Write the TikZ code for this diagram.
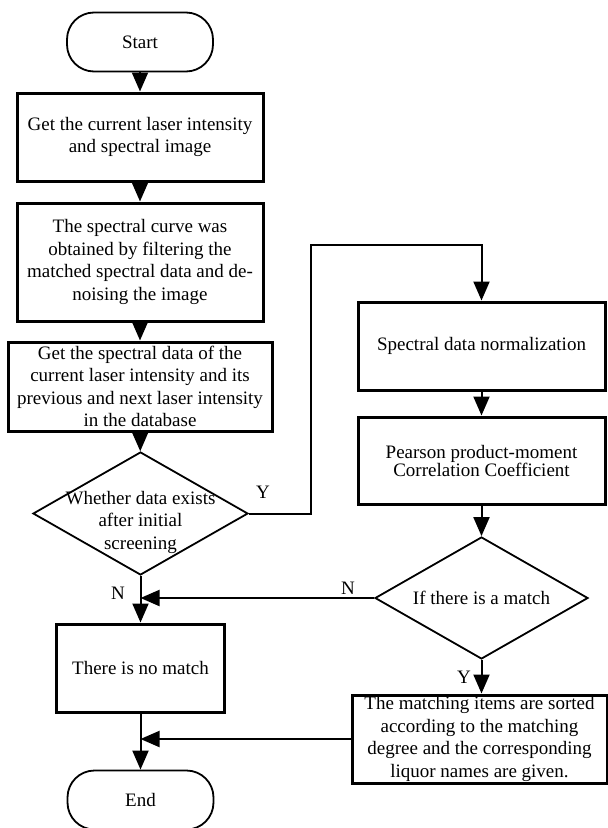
\documentclass[tikz,border=0pt]{standalone}
\usepackage{fontspec}
\setmainfont{Liberation Serif}
\usetikzlibrary{arrows.meta,shapes.geometric}

\begin{document}
\begin{tikzpicture}[x=1pt,y=-1pt,>={Triangle[length=19pt,width=16pt]},line join=miter,
  every node/.style={font=\fontsize{19}{22.5}\selectfont},
  process/.style={draw,line width=3pt,rectangle,inner sep=0pt,align=center},
  term/.style={draw,line width=1.8pt,rectangle,rounded corners=27pt,minimum width=146pt,minimum height=59pt},
  decision/.style={draw,line width=1.8pt,diamond,inner sep=0pt},
  flow/.style={->,line width=2pt},
  lbl/.style={inner sep=0pt}]
\useasboundingbox (0,0) rectangle (608,828);

% Node: Start
\node[term] (start) at (140,42) {Start};

% Node: left column
\node[process,minimum width=246pt,minimum height=88pt] (b1) at (140,137)
  {Get the current laser intensity\\and spectral image};
\node[process,minimum width=246pt,minimum height=118pt] (b2) at (140,262)
  {The spectral curve was\\obtained by filtering the\\matched spectral data and de-\\noising the image};
\node[process,minimum width=264pt,minimum height=89pt] (b3) at (140,386.5)
  {Get the spectral data of the\\current laser intensity and its\\previous and next laser intensity\\in the database};
\node[decision,minimum width=215pt,minimum height=123pt] (d1) at (140.5,513.5) {};
\node[align=center,inner sep=0pt] (d1txt) at (140.5,522) {Whether data exists\\after initial\\screening};
\node[process,minimum width=168pt,minimum height=88pt] (b6) at (140.5,668) {There is no match};
\node[term] (end) at (140.5,800) {End};

% Node: right column
\node[process,minimum width=247pt,minimum height=88pt] (b4) at (481.5,346) {Spectral data normalization};
\node[process,minimum width=247pt,minimum height=87pt,font=\fontsize{19}{18}\selectfont] (b5) at (481.5,460.5)
  {Pearson product-moment\\Correlation Coefficient};
\node[decision,minimum width=213pt,minimum height=122pt] (d2) at (481.5,598) {};
\node[inner sep=0pt] (d2txt) at (481.5,598) {If there is a match};
\node[process,minimum width=255pt,minimum height=88pt] (b7) at (479.5,739)
  {The matching items are sorted\\according to the matching\\degree and the corresponding\\liquor names are given.};

% Edge: main flow
\draw[flow] (start) -- (b1);
\draw[flow] (b1) -- (b2);
\draw[flow] (b2) -- (b3);
\draw[flow] (b3) -- (d1);
\draw[flow] (d1) -- (b6);
\draw[flow] (b6) -- (end);

% Edge: d1 -> b4 (Y)
\coordinate (yturn) at (311,245);
\draw[flow] (d1.east) -| (yturn) -| (b4.north);
\node[lbl] (ylbl1) at (263,492) {Y};

\draw[flow] (b4) -- (b5);
\draw[flow] (b5) -- (d2);

% Edge: d2 -> b7 (Y)
\draw[flow] (d2.south) -- (d2.south |- b7.north);
\node[lbl] (ylbl2) at (464,677) {Y};

% Edge: d2 -> left line (N)
\draw[flow] (d2.west) -- (d2.west -| d1.south);
\node[lbl] (nlbl1) at (348,588) {N};
\node[lbl] (nlbl2) at (118,593) {N};

% Edge: b7 -> left line
\draw[flow] (b7.west) -- (b7.west -| b6.south);
%
\end{tikzpicture}
\end{document}
